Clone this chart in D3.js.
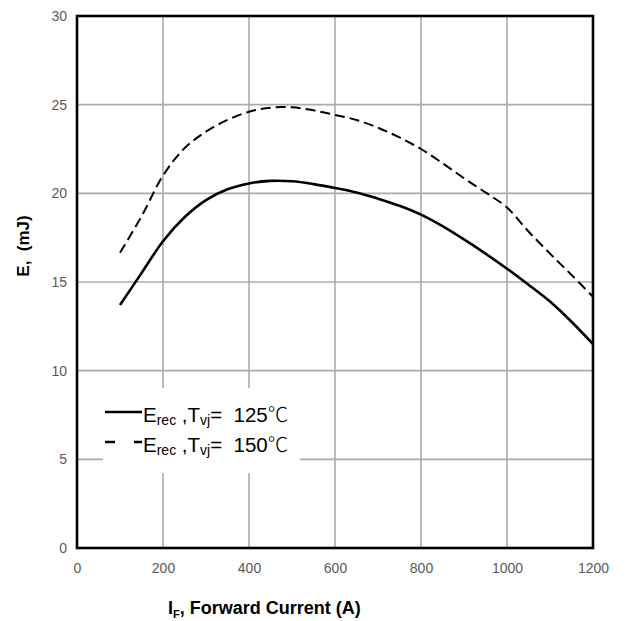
<!DOCTYPE html>
<html><head><meta charset="utf-8">
<script src="https://cdn.jsdelivr.net/npm/d3@7"></script>
<style>body{margin:0;background:#fff}svg{display:block}</style>
</head><body>
<svg id="c" width="626" height="621"></svg>
<script>
const current = [100,150,200,250,300,350,400,450,500,550,600,650,700,750,800,850,900,950,1000,1050,1100,1150,1200];
const erec125 = [13.7,15.5,17.3,18.65,19.62,20.23,20.56,20.7,20.68,20.52,20.3,20.05,19.7,19.3,18.8,18.15,17.4,16.6,15.75,14.85,13.9,12.76,11.5];
const erec150 = [16.65,18.7,21.0,22.54,23.48,24.14,24.6,24.83,24.85,24.68,24.42,24.14,23.7,23.15,22.5,21.7,20.85,20.05,19.2,17.85,16.6,15.4,14.17];
const xTicks = [0,200,400,600,800,1000,1200];
const yTicks = [0,5,10,15,20,25,30];

const svg = d3.select("#c");
const L=77, R=593, T=16, B=548;
const x = d3.scaleLinear().domain([0,1200]).range([L,R]);
const y = d3.scaleLinear().domain([0,30]).range([B,T]);

// grid
svg.append("g").selectAll("line").data(xTicks.slice(1,-1)).join("line")
  .attr("x1",d=>x(d)).attr("x2",d=>x(d)).attr("y1",T).attr("y2",B)
  .attr("stroke","#ababab").attr("stroke-width",1.6);
svg.append("g").selectAll("line").data(yTicks.slice(1,-1)).join("line")
  .attr("y1",d=>y(d)).attr("y2",d=>y(d)).attr("x1",L).attr("x2",R)
  .attr("stroke","#ababab").attr("stroke-width",1.6);

// tick labels
const xAxis = d3.axisBottom(x).tickValues(xTicks).tickFormat(d3.format("d")).tickSize(0).tickPadding(15);
const gx = svg.append("g").attr("transform",`translate(0,${B})`).call(xAxis);
gx.select(".domain").remove();
gx.selectAll("text").attr("font-family","Liberation Sans, Arial, sans-serif").attr("font-size",14).attr("fill","#595959");
const yAxis = d3.axisLeft(y).tickValues(yTicks).tickFormat(d3.format("d")).tickSize(0).tickPadding(10);
const gy = svg.append("g").attr("transform",`translate(${L},0)`).call(yAxis);
gy.select(".domain").remove();
gy.selectAll("text").attr("font-family","Liberation Sans, Arial, sans-serif").attr("font-size",14).attr("fill","#595959");

// legend background
svg.append("rect").attr("x",103).attr("y",388).attr("width",197).attr("height",85).attr("fill","#fff");

// curves
const line = d3.line().x(d=>x(d[0])).y(d=>y(d[1])).curve(d3.curveCatmullRom.alpha(0.5));
svg.append("path").datum(current.map((c,i)=>[c,erec125[i]])).attr("d",line)
  .attr("fill","none").attr("stroke","#000").attr("stroke-width",2.6);
svg.append("path").datum(current.map((c,i)=>[c,erec150[i]])).attr("d",line)
  .attr("fill","none").attr("stroke","#000").attr("stroke-width",2).attr("stroke-dasharray","10,5");

// frame
svg.append("rect").attr("x",L).attr("y",T).attr("width",R-L).attr("height",B-T)
  .attr("fill","none").attr("stroke","#000").attr("stroke-width",2.6);

// legend
const legendItems = [{t:"125", dash:null, y:412},{t:"150", dash:"10,19,8", y:442}];
legendItems.forEach(it=>{
  svg.append("line").attr("x1",105).attr("x2",142).attr("y1",it.y).attr("y2",it.y)
    .attr("stroke","#000").attr("stroke-width",2.6).attr("stroke-dasharray",it.dash);
  const tx = svg.append("text").attr("x",143).attr("y",it.y+10)
    .attr("xml:space","preserve").style("white-space","pre")
    .attr("font-family","Liberation Sans, Arial, sans-serif").attr("font-size",20.5).attr("fill","#000");
  tx.append("tspan").text("E");
  tx.append("tspan").attr("font-size",14).attr("dy",3).text("rec");
  tx.append("tspan").attr("dy",-3).text(" ,T");
  tx.append("tspan").attr("font-size",14).attr("dy",3).text("vj");
  tx.append("tspan").attr("dy",-3).text("=  "+it.t);
  tx.append("tspan").attr("font-family","Noto Sans CJK SC, DejaVu Sans, sans-serif").attr("font-weight",300).text("℃");
});

// axis titles
const xt = svg.append("text").attr("x",168).attr("y",614)
  .attr("font-family","Liberation Sans, Arial, sans-serif").attr("font-size",18).attr("font-weight","bold");
xt.append("tspan").text("I");
xt.append("tspan").attr("font-size",11).attr("dy",4).text("F");
xt.append("tspan").attr("dy",-4).text(", Forward Current (A)");

svg.append("text").attr("transform","translate(29,246) rotate(-90)").attr("text-anchor","middle")
  .attr("font-family","Liberation Sans, Arial, sans-serif").attr("font-size",17).attr("font-weight","bold")
  .attr("xml:space","preserve").style("white-space","pre").text("E,  (mJ)");
</script>
</body></html>
